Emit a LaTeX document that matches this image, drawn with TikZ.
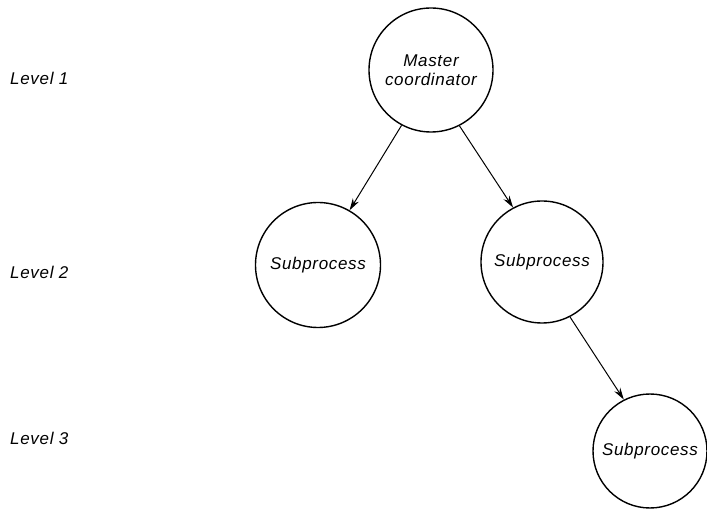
\documentclass[tikz,border=0pt]{standalone}
\usepackage{fontspec}
\setmainfont{Liberation Sans}[LetterSpace=4]
\usetikzlibrary{arrows.meta}
\begin{document}
\begin{tikzpicture}[x=1pt,y=-1pt,
  proc/.style={circle,draw,line width=1.4pt,inner sep=0pt,font=\fontsize{17}{19.5}\selectfont\itshape},
  lvl/.style={anchor=west,inner sep=0pt,font=\fontsize{17}{19.5}\selectfont\itshape},
  conn/.style={line width=1pt,-{Stealth[length=12pt,width=7pt]}}]
\useasboundingbox (0,0) rectangle (707,518);
\node[proc,minimum size=124pt,align=center] (m) at (431,70) {Master\\coordinator};
\node[proc,minimum size=125pt] (a) at (318,265) {Subprocess};
\node[proc,minimum size=122pt] (b) at (542,262) {Subprocess};
\node[proc,minimum size=114pt] (c) at (650,451) {Subprocess};
\node[lvl] (l1) at (10,78) {Level 1};
\node[lvl] (l2) at (10,272) {Level 2};
\node[lvl] (l3) at (10,438) {Level 3};
\draw[conn] (m.-118) -- (a.60);
\draw[conn] (m.-63) -- (b.118);
\draw[conn] (b.-63) -- (c.117);
\end{tikzpicture}
\end{document}
